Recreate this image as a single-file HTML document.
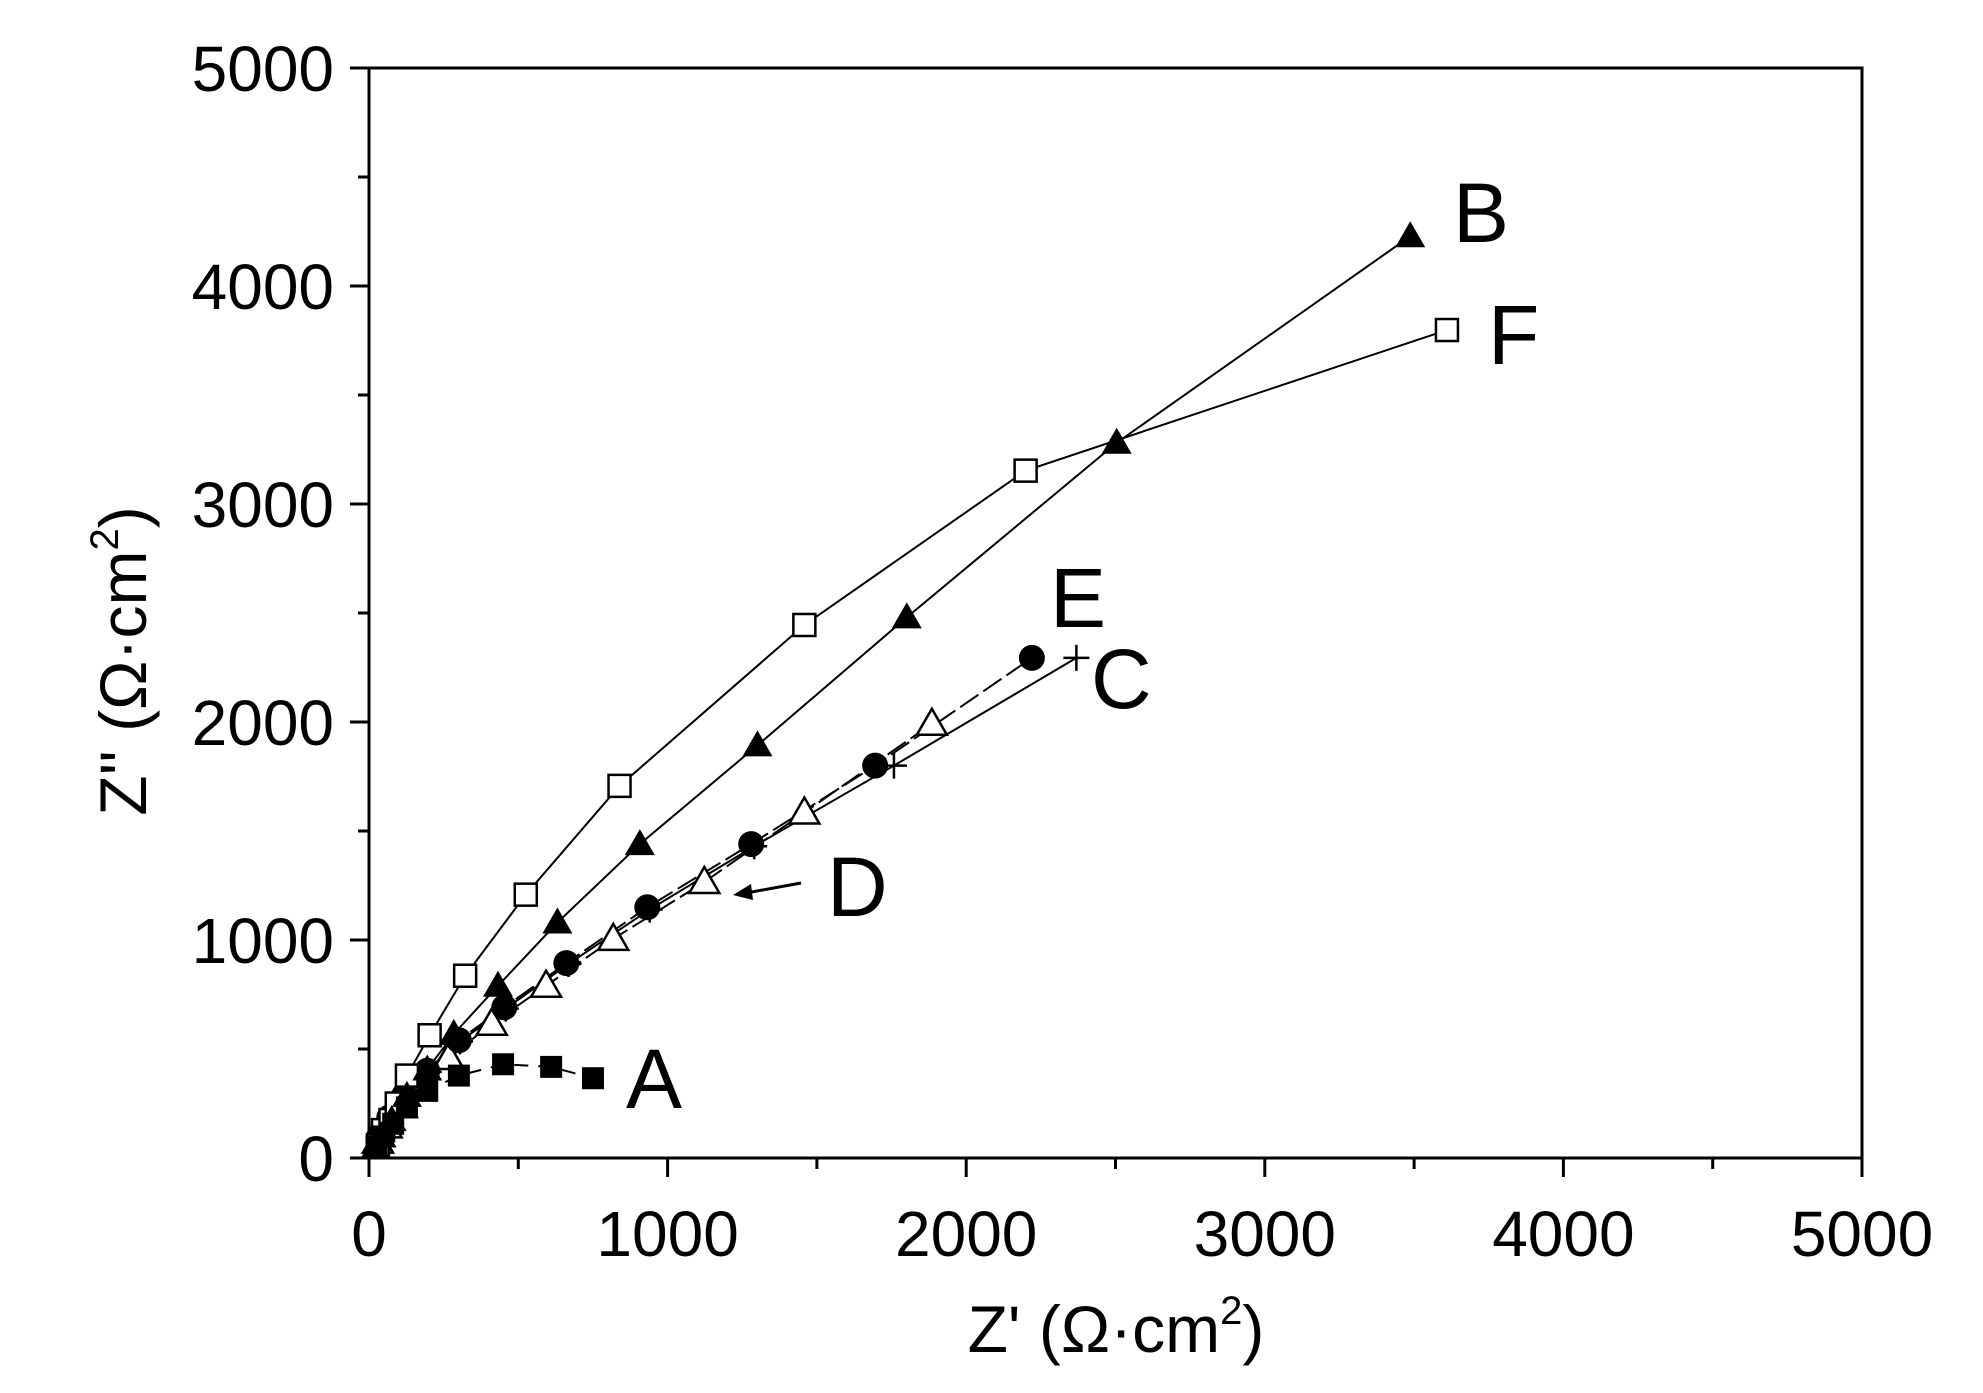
<!DOCTYPE html>
<html><head><meta charset="utf-8"><style>
html,body{margin:0;padding:0;background:#fff;}
svg{display:block;font-family:"Liberation Sans",Arial,sans-serif;}
</style></head><body>
<svg id="chart" width="1983" height="1393" viewBox="0 0 1983 1393" xmlns="http://www.w3.org/2000/svg"></svg>
<script>
const xTicks=[0,1000,2000,3000,4000,5000];
const yTicks=[0,1000,2000,3000,4000,5000];
const seriesNames=["A","B","C","D","E","F"];
const aX=[25,47,81,127,195,301,449,610,750];
const aY=[52,99,157,232,308,378,430,418,366];
const bX=[21,42,76,127,195,284,432,631,907,1301,1801,2504,3487];
const bY=[46,99,174,285,406,569,790,1080,1440,1893,2480,3281,4228];
const cX=[36,72,124,200,305,458,668,940,1290,1758,2369];
const cY=[95,182,285,395,535,685,890,1140,1430,1800,2294];
const dX=[30,59,110,174,267,411,593,818,1123,1458,1885];
const dY=[75,145,238,337,459,616,790,1005,1266,1585,1992];
const eX=[34,68,119,195,301,453,661,932,1280,1695,2220];
const eY=[99,186,290,400,540,691,894,1150,1440,1800,2294];
const fX=[30,47,72,93,127,203,322,525,839,1458,2199,3610];
const fY=[58,128,174,250,378,563,836,1208,1707,2445,3153,3798];

const L=369,R=1862,T=68,B=1158;
const sx=v=>L+v/5000*(R-L);
const sy=v=>B-v/5000*(B-T);
const NS="http://www.w3.org/2000/svg";
const svg=document.getElementById('chart');
function mk(tag,attrs,parent){const e=document.createElementNS(NS,tag);for(const k in attrs)e.setAttribute(k,attrs[k]);(parent||svg).appendChild(e);return e;}

const frame=mk('rect',{x:L,y:T,width:R-L,height:B-T,fill:'none',stroke:'#000','stroke-width':3});



for(let v=0;v<=5000;v+=500){
  const major=v%1000===0;const len=major?19:11;
  const tx=mk('line',{x1:sx(v),x2:sx(v),y1:B,y2:B+len,stroke:'#000','stroke-width':3});
  
  
  const ty=mk('line',{x1:L-len,x2:L,y1:sy(v),y2:sy(v),stroke:'#000','stroke-width':3});
  
  
}
xTicks.forEach(v=>{
  const t=mk('text',{x:sx(v),y:1256,'font-size':64,'text-anchor':'middle'});t.textContent=v;
  
  
});
yTicks.forEach(v=>{
  const t=mk('text',{x:334,y:sy(v)+23,'font-size':64,'text-anchor':'end'});t.textContent=v;
  
  
});
const xt=mk('text',{x:1116,y:1352,'font-size':66,'text-anchor':'middle'});
xt.innerHTML="Z' (Ω·cm<tspan font-size='40' dy='-28'>2</tspan><tspan dy='28'>)</tspan>";


const yt=mk('text',{x:0,y:0,'font-size':66,'text-anchor':'middle',transform:'translate(146,661) rotate(-90)'});
yt.innerHTML="Z''  (Ω·cm<tspan font-size='40' dy='-28'>2</tspan><tspan dy='28'>)</tspan>";



function line(xs,ys,name,dash){
  const pts=xs.map((x,i)=>sx(x)+','+sy(ys[i])).join(' ');
  const p=mk('polyline',{points:pts,fill:'none',stroke:'#000','stroke-width':2,'stroke-dasharray':dash||'none'});
  
  
}
function marker(type,x,y,name){
  const cx=sx(x),cy=sy(y);let e;
  if(type==='sqF')e=mk('rect',{x:cx-11,y:cy-11,width:22,height:22,fill:'#000'});
  else if(type==='sqO')e=mk('rect',{x:cx-11,y:cy-11,width:22,height:22,fill:'#fff',stroke:'#000','stroke-width':2.5});
  else if(type==='triF')e=mk('polygon',{points:`${cx},${cy-15} ${cx-15},${cy+11} ${cx+15},${cy+11}`,fill:'#000'});
  else if(type==='triO')e=mk('polygon',{points:`${cx},${cy-15} ${cx-15},${cy+11} ${cx+15},${cy+11}`,fill:'#fff',stroke:'#000','stroke-width':2.5});
  else if(type==='circ')e=mk('circle',{cx:cx,cy:cy,r:13,fill:'#000'});
  else if(type==='plus')e=mk('path',{d:`M${cx-13},${cy}H${cx+13}M${cx},${cy-13}V${cy+13}`,stroke:'#000','stroke-width':2.5,fill:'none'});
  
  
}
line(aX,aY,'series-a-line','14 10');
line(cX,cY,'series-c-line');
line(dX,dY,'series-d-line','22 6');
line(eX,eY,'series-e-line','22 6');
line(bX,bY,'series-b-line');
line(fX,fY,'series-f-line');
cX.forEach((x,i)=>marker('plus',x,cY[i],'series-c-point'));
dX.forEach((x,i)=>marker('triO',x,dY[i],'series-d-point'));
eX.forEach((x,i)=>marker('circ',x,eY[i],'series-e-point'));
fX.forEach((x,i)=>marker('sqO',x,fY[i],'series-f-point'));
bX.forEach((x,i)=>marker('triF',x,bY[i],'series-b-point'));
aX.forEach((x,i)=>marker('sqF',x,aY[i],'series-a-point'));

const labs=[["A",626,1108],["B",1453,242],["C",1091,708],["D",827,916],["E",1050,627],["F",1488,364]];
labs.forEach(l=>{
  const t=mk('text',{x:l[1],y:l[2],'font-size':84});t.textContent=l[0];
  
  
});
const ar=mk('line',{x1:801,y1:883,x2:746,y2:893,stroke:'#000','stroke-width':3});


const ah=mk('polygon',{points:'733,895 751,884 753,900',fill:'#000'});


</script>
</body></html>
